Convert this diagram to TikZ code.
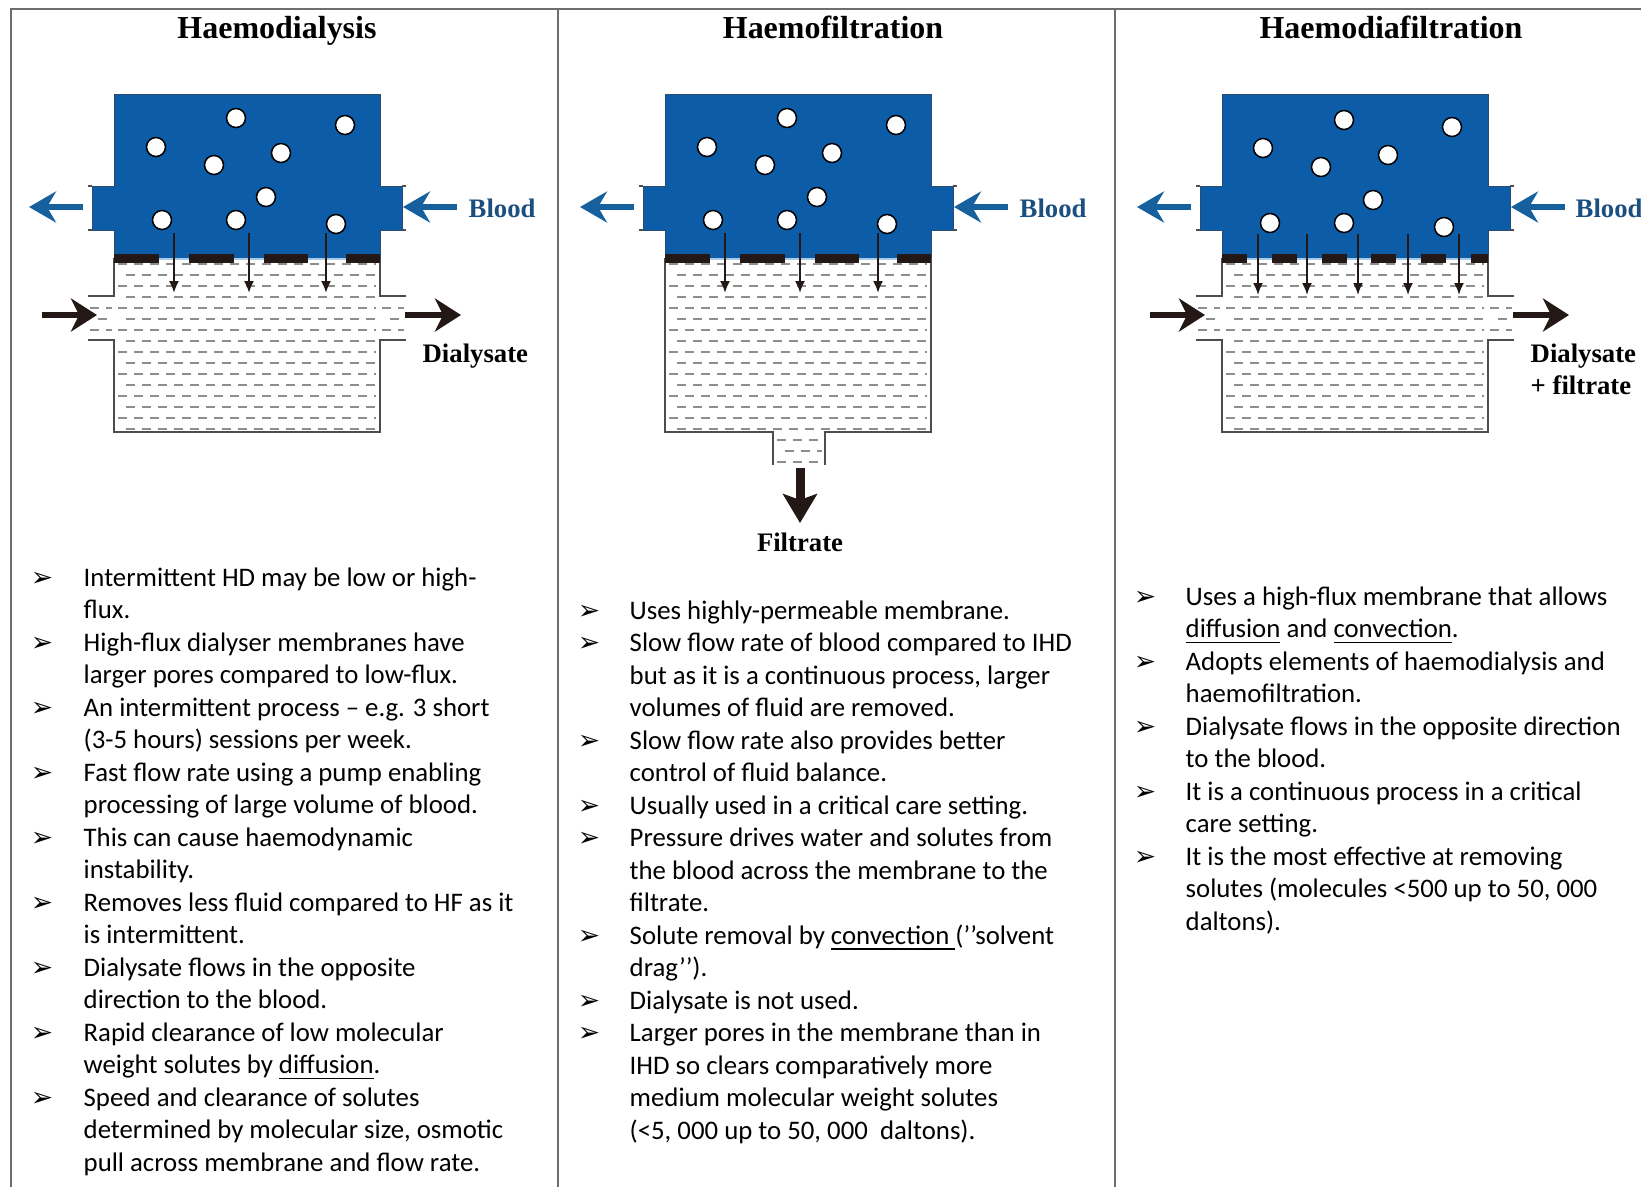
\documentclass[tikz,border=0pt]{standalone}
\usepackage{fontspec}
\setmainfont{Carlito}
\newfontfamily\labelserif{Liberation Serif}
\newfontfamily\bulletsym{DejaVu Sans}
\usetikzlibrary{arrows.meta}
\usetikzlibrary{positioning}
\definecolor{bloodblue}{HTML}{0D5CA7}
\definecolor{bloodedge}{HTML}{2A4C6E}
\definecolor{arrowblue}{HTML}{17609E}
\definecolor{labelblue}{HTML}{1B4F80}
\definecolor{poreblue}{HTML}{A9CBEA}
\definecolor{ink}{HTML}{231815}
\definecolor{fluidgray}{HTML}{8E8E8E}
\definecolor{wallgray}{HTML}{4D4D4D}
\definecolor{framegray}{HTML}{6E6E6E}
\newcommand{\bodyfont}{\fontsize{7.62pt}{9.26pt}\selectfont}
\newcommand{\headfont}{\labelserif\bfseries\fontsize{9.1pt}{11pt}\selectfont}
\newcommand{\tagfont}{\labelserif\bfseries\fontsize{7.6pt}{9pt}\selectfont}
\newcommand{\bulfont}{\bulletsym\fontsize{7.6pt}{8pt}\selectfont}
\tikzstyle{panelframe}=[draw=framegray, line width=0.2mm]
\tikzstyle{paneltitle}=[font=\headfont, anchor=base, inner sep=0pt]
\tikzstyle{tag}=[font=\tagfont, inner sep=0pt]
\tikzstyle{bloodbox}=[fill=bloodblue, draw=bloodedge, line width=0.1mm]
\tikzstyle{wall}=[draw=wallgray, line width=0.15mm]
\tikzstyle{fluid}=[draw=fluidgray, line width=0.15mm, dash pattern=on 0.9mm off 0.7mm]
\tikzstyle{pore}=[draw=ink, line width=0.9mm]
\tikzstyle{solute}=[circle, draw=black, fill=white, line width=0.15mm, minimum size=1.9mm, inner sep=0pt]
\tikzstyle{flux}=[-{Latex[length=1.2mm,width=1mm]}, line width=0.2mm, color=ink]
\tikzstyle{bloodflow}=[-{Stealth[length=2.7mm,width=3.1mm,inset=0.9mm]}, line width=0.6mm, color=arrowblue]
\tikzstyle{dialflow}=[-{Stealth[length=2.6mm,width=3.3mm,inset=0.8mm]}, line width=0.65mm, color=ink]
\tikzstyle{filtflow}=[-{Stealth[length=2.9mm,width=3.4mm,inset=0.6mm]}, line width=0.9mm, color=ink]
\tikzstyle{note}=[font=\bodyfont, anchor=base west, inner sep=0pt]
\tikzstyle{bul}=[font=\bulfont, anchor=base, inner sep=0pt]

\begin{document}
\begin{tikzpicture}[x=0.1mm, y=-0.1mm]
	\useasboundingbox (0,0) rectangle (1641,1187);

	% Frame
	\draw[panelframe] (11,1187) -- (11,8.5) -- (1641,8.5);
	\draw[panelframe] (558,8.5) -- (558,1187);
	\draw[panelframe] (1115,8.5) -- (1115,1187);
	\node[paneltitle] (hdtitle) at (277,38) {Haemodialysis};
	\node[paneltitle] (hftitle) at (833,38) {Haemofiltration};
	\node[paneltitle] (hdftitle) at (1391,38) {Haemodiafiltration};

	% Haemodialysis
	\begin{scope}[shift={(114,0)}]
	\filldraw[bloodbox] (0,94) -- (266,94) -- (266,186) -- (288,186) -- (288,230) -- (266,230) -- (266,258) -- (0,258) -- (0,230) -- (-22,230) -- (-22,186) -- (0,186) -- cycle;
	\draw[wall] (-26,186) -- (-22,186) (-26,230) -- (-22,230) (288,186) -- (292,186) (288,230) -- (292,230);
	\foreach \k in {0,...,15}
		\draw[fluid] ({4+8*mod(\k,2)},{264+11*\k}) -- (262,{264+11*\k});
	\foreach \k in {4,5,6}
		\draw[fluid] ({-24+8*mod(\k,2)},{264+11*\k}) -- (-2,{264+11*\k}) ({268+8*mod(\k,2)},{264+11*\k}) -- (290,{264+11*\k});
	\draw[wall] (-26,296) -- (0,296) -- (0,258);
	\draw[wall] (-26,340) -- (0,340) -- (0,432) -- (266,432) -- (266,340) -- (292,340);
	\draw[wall] (292,296) -- (266,296) -- (266,258);
	\draw[poreblue, line width=0.15mm] (0,259) -- (266,259);
	\foreach \a/\b in {0/45, 75/120, 150/194, 232/266}
		\draw[pore] (\a,258) -- (\b,258);
	\foreach \x/\y [count=\i] in {42/147, 122/118, 231/125, 100/165, 167/153, 152/197, 48/220, 122/220, 222/224}
		\node[solute] (hds\i) at (\x,\y) {};
	\foreach \x in {60, 135, 212}
		\draw[flux] (\x,233) -- (\x,293);
	\coordinate (hdbloodin) at (343,207);
	\coordinate (hdportin) at (289,207);
	\coordinate (hdportout) at (-31,207);
	\coordinate (hdbloodout) at (-85,207);
	\draw[bloodflow] (hdbloodin) -- (hdportin);
	\draw[bloodflow] (hdportout) -- (hdbloodout);
	\node[tag, text=labelblue, anchor=west] (hdblood) at (354,208) {Blood};
	\coordinate (hddialin) at (-72,315);
	\coordinate (hdchanin) at (-17,315);
	\coordinate (hdchanout) at (291,315);
	\coordinate (hddialout) at (347,315);
	\draw[dialflow] (hddialin) -- (hdchanin);
	\draw[dialflow] (hdchanout) -- (hddialout);
	\node[tag, anchor=base west] (hddial) at (308,362) {Dialysate};
	\end{scope}

	% Haemofiltration
	\begin{scope}[shift={(665,0)}]
	\filldraw[bloodbox] (0,94) -- (266,94) -- (266,186) -- (288,186) -- (288,230) -- (266,230) -- (266,258) -- (0,258) -- (0,230) -- (-22,230) -- (-22,186) -- (0,186) -- cycle;
	\draw[wall] (-26,186) -- (-22,186) (-26,230) -- (-22,230) (288,186) -- (292,186) (288,230) -- (292,230);
	\foreach \k in {0,...,15}
		\draw[fluid] ({4+8*mod(\k,2)},{264+11*\k}) -- (262,{264+11*\k});
	\foreach \k in {16,17,18}
		\draw[fluid] ({112+8*mod(\k,2)},{264+11*\k}) -- (157,{264+11*\k});
	\draw[wall] (0,258) -- (0,432) -- (108,432) -- (108,465);
	\draw[wall] (160,465) -- (160,432) -- (266,432) -- (266,258);
	\draw[poreblue, line width=0.15mm] (0,259) -- (266,259);
	\foreach \a/\b in {0/45, 75/120, 150/194, 232/266}
		\draw[pore] (\a,258) -- (\b,258);
	\foreach \x/\y [count=\i] in {42/147, 122/118, 231/125, 100/165, 167/153, 152/197, 48/220, 122/220, 222/224}
		\node[solute] (hfs\i) at (\x,\y) {};
	\foreach \x in {60, 135, 213}
		\draw[flux] (\x,233) -- (\x,293);
	\coordinate (hfbloodin) at (343,207);
	\coordinate (hfportin) at (289,207);
	\coordinate (hfportout) at (-31,207);
	\coordinate (hfbloodout) at (-85,207);
	\draw[bloodflow] (hfbloodin) -- (hfportin);
	\draw[bloodflow] (hfportout) -- (hfbloodout);
	\node[tag, text=labelblue, anchor=west] (hfblood) at (354,208) {Blood};
	\coordinate (hfoutlet) at (135,468);
	\coordinate (hfdrain) at (135,523);
	\draw[filtflow] (hfoutlet) -- (hfdrain);
	\node[tag, anchor=base] (hffilt) at (135,551) {Filtrate};
	\end{scope}

	% Haemodiafiltration
	\begin{scope}[shift={(1222,0)}]
	\filldraw[bloodbox] (0,94) -- (266,94) -- (266,186) -- (288,186) -- (288,230) -- (266,230) -- (266,258) -- (0,258) -- (0,230) -- (-22,230) -- (-22,186) -- (0,186) -- cycle;
	\draw[wall] (-26,186) -- (-22,186) (-26,230) -- (-22,230) (288,186) -- (292,186) (288,230) -- (292,230);
	\foreach \k in {0,...,15}
		\draw[fluid] ({4+8*mod(\k,2)},{264+11*\k}) -- (262,{264+11*\k});
	\foreach \k in {4,5,6}
		\draw[fluid] ({-24+8*mod(\k,2)},{264+11*\k}) -- (-2,{264+11*\k}) ({268+8*mod(\k,2)},{264+11*\k}) -- (290,{264+11*\k});
	\draw[wall] (-26,296) -- (0,296) -- (0,258);
	\draw[wall] (-26,340) -- (0,340) -- (0,432) -- (266,432) -- (266,340) -- (292,340);
	\draw[wall] (292,296) -- (266,296) -- (266,258);
	\draw[poreblue, line width=0.15mm] (0,259) -- (266,259);
	\foreach \a in {0, 50, 100, 149, 199}
		\draw[pore] (\a,258) -- (\a+25,258);
	\draw[pore] (249,258) -- (266,258);
	\foreach \x/\y [count=\i] in {41/148, 122/120, 230/127, 99/167, 166/155, 151/200, 48/223, 122/223, 222/227}
		\node[solute] (hdfs\i) at (\x,\y) {};
	\foreach \x in {36, 85, 136, 186, 237}
		\draw[flux] (\x,234) -- (\x,295);
	\coordinate (hdfbloodin) at (343,207);
	\coordinate (hdfportin) at (289,207);
	\coordinate (hdfportout) at (-31,207);
	\coordinate (hdfbloodout) at (-85,207);
	\draw[bloodflow] (hdfbloodin) -- (hdfportin);
	\draw[bloodflow] (hdfportout) -- (hdfbloodout);
	\node[tag, text=labelblue, anchor=west] (hdfblood) at (353,208) {Blood};
	\coordinate (hdfdialin) at (-72,315);
	\coordinate (hdfchanin) at (-17,315);
	\coordinate (hdfchanout) at (291,315);
	\coordinate (hdfdialout) at (347,315);
	\draw[dialflow] (hdfdialin) -- (hdfchanin);
	\draw[dialflow] (hdfchanout) -- (hdfdialout);
	\node[tag, anchor=base west] (hdfdial) at (308,362) {Dialysate};
	\node[tag, anchor=base west] (hdffilt) at (308,394) {+ filtrate};
	\end{scope}

	% Haemodialysis notes
	\foreach \b/\t [count=\i] in {
		1/{Intermittent HD may be low or high-},
		0/{flux.},
		1/{High-flux dialyser membranes have},
		0/{larger pores compared to low-flux.},
		1/{An intermittent process – e.g. 3 short},
		0/{(3-5 hours) sessions per week.},
		1/{Fast flow rate using a pump enabling},
		0/{processing of large volume of blood.},
		1/{This can cause haemodynamic},
		0/{instability.},
		1/{Removes less fluid compared to HF as it},
		0/{is intermittent.},
		1/{Dialysate flows in the opposite},
		0/{direction to the blood.},
		1/{Rapid clearance of low molecular},
		0/{weight solutes by \underline{diffusion}.},
		1/{Speed and clearance of solutes},
		0/{determined by molecular size, osmotic},
		0/{pull across membrane and flow rate.}}
	{
		\node[note] (hdn\i) at (83,{586+32.5*(\i-1)}) {\t};
		\ifnum\b=1 \node[bul] (hdb\i) at (42,{586+32.5*(\i-1)}) {➢}; \fi
	}

	% Haemofiltration notes
	\foreach \b/\t [count=\i] in {
		1/{Uses highly-permeable membrane.},
		1/{Slow flow rate of blood compared to IHD},
		0/{but as it is a continuous process, larger},
		0/{volumes of fluid are removed.},
		1/{Slow flow rate also provides better},
		0/{control of fluid balance.},
		1/{Usually used in a critical care setting.},
		1/{Pressure drives water and solutes from},
		0/{the blood across the membrane to the},
		0/{filtrate.},
		1/{Solute removal by \underline{convection\ }(’’solvent},
		0/{drag’’).},
		1/{Dialysate is not used.},
		1/{Larger pores in the membrane than in},
		0/{IHD so clears comparatively more},
		0/{medium molecular weight solutes},
		0/{(<5, 000 up to 50, 000~ daltons).}}
	{
		\node[note] (hfn\i) at (629,{619+32.5*(\i-1)}) {\t};
		\ifnum\b=1 \node[bul] (hfb\i) at (589,{619+32.5*(\i-1)}) {➢}; \fi
	}

	% Haemodiafiltration notes
	\foreach \b/\t [count=\i] in {
		1/{Uses a high-flux membrane that allows},
		0/{\underline{diffusion} and \underline{convection}.},
		1/{Adopts elements of haemodialysis and},
		0/{haemofiltration.},
		1/{Dialysate flows in the opposite direction},
		0/{to the blood.},
		1/{It is a continuous process in a critical},
		0/{care setting.},
		1/{It is the most effective at removing},
		0/{solutes (molecules <500 up to 50, 000},
		0/{daltons).}}
	{
		\node[note] (hdfn\i) at (1185,{605+32.5*(\i-1)}) {\t};
		\ifnum\b=1 \node[bul] (hdfb\i) at (1145,{605+32.5*(\i-1)}) {➢}; \fi
	}

\end{tikzpicture}
\end{document}
